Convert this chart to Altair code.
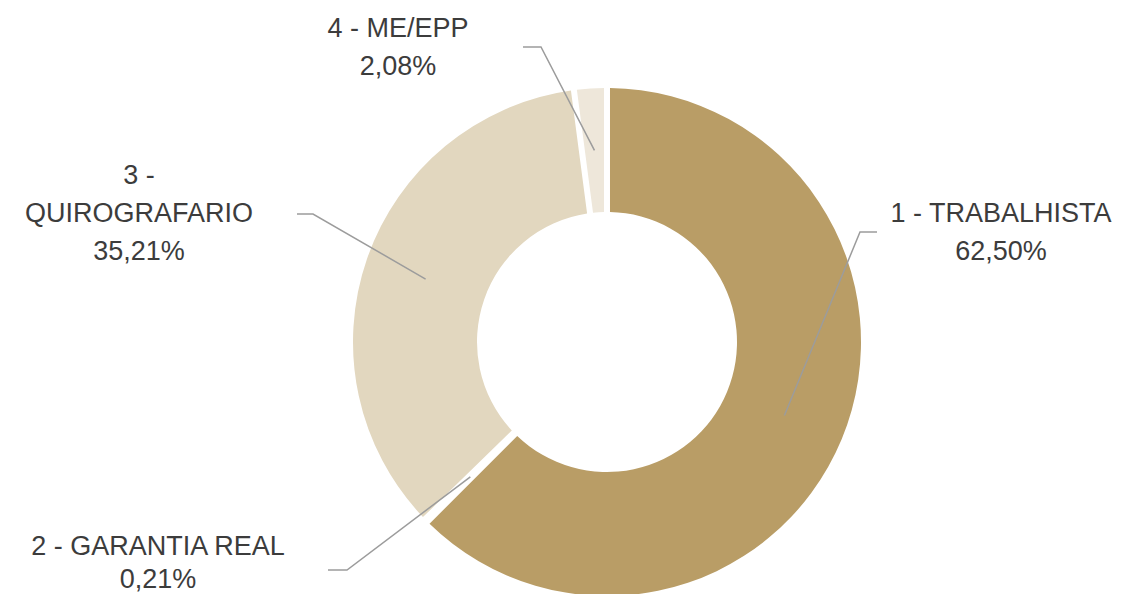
import altair as alt
import pandas as pd
import numpy as np

# ---- data ----
categories = ["1 - TRABALHISTA", "2 - GARANTIA REAL", "3 - QUIROGRAFARIO", "4 - ME/EPP"]
shares = [62.50, 0.21, 35.21, 2.08]
share_labels = ["62,50%", "0,21%", "35,21%", "2,08%"]
label_lines = [
    ["1 - TRABALHISTA", "62,50%"],
    ["2 - GARANTIA REAL", "0,21%"],
    ["3 -", "QUIROGRAFARIO", "35,21%"],
    ["4 - ME/EPP", "2,08%"],
]
colors = ["#B99D66", "#FFFFFF", "#E2D7BF", "#EEE7DA"]

# ---- layout ----
W, H = 1106, 586
CX, CY = 599, 334
R_OUT, R_IN = 254, 130
R_LEAD = 192
label_x = [993, 150, 131, 390]
label_y0 = [214, 547, 176, 29]
label_lh = [38, 33, 38, 38]
elbow = [(852, 224), (339, 562), (305, 206), (533, 39)]
lead_end = [(869, 224), (320, 562), (289, 206), (515, 39)]

pie_df = pd.DataFrame({"cat": categories, "share": shares, "idx": list(range(len(categories)))})

# leader lines: start at slice mid-angle in the middle of the ring
cum = np.cumsum(shares)
mid = (cum - np.array(shares) / 2) / 100 * 2 * np.pi
rows = []
for i, c in enumerate(categories):
    ax = CX + R_LEAD * np.sin(mid[i])
    ay = CY - R_LEAD * np.cos(mid[i])
    rows.append({"cat": c, "step": 0, "x": ax, "y": ay})
    rows.append({"cat": c, "step": 1, "x": elbow[i][0], "y": elbow[i][1]})
    rows.append({"cat": c, "step": 2, "x": lead_end[i][0], "y": lead_end[i][1]})
lead_df = pd.DataFrame(rows)

trows = []
for i, lines in enumerate(label_lines):
    for j, t in enumerate(lines):
        trows.append({"t": t, "x": label_x[i], "y": label_y0[i] + j * label_lh[i]})
text_df = pd.DataFrame(trows)

xs = alt.Scale(domain=[0, W], nice=False, zero=False)
ys = alt.Scale(domain=[0, H], nice=False, zero=False, reverse=True)

arcs = alt.Chart(pie_df).mark_arc(
    innerRadius=R_IN, outerRadius=R_OUT, padAngle=0.021
).encode(
    theta=alt.Theta("share:Q", stack=True),
    order=alt.Order("idx:Q"),
    color=alt.Color("cat:N", scale=alt.Scale(domain=categories, range=colors), legend=None),
    x=alt.value(CX),
    y=alt.value(CY),
)

leads = alt.Chart(lead_df).mark_line(color="#9C9C9C", strokeWidth=1.5).encode(
    x=alt.X("x:Q", scale=xs, axis=None),
    y=alt.Y("y:Q", scale=ys, axis=None),
    detail="cat:N",
    order="step:Q",
)

texts = alt.Chart(text_df).mark_text(
    font="Liberation Sans", fontSize=27, color="#3C3C3C", align="center", baseline="alphabetic"
).encode(
    x=alt.X("x:Q", scale=xs, axis=None),
    y=alt.Y("y:Q", scale=ys, axis=None),
    text="t:N",
)

chart = alt.layer(arcs, leads, texts).properties(
    width=W, height=H, padding=0, autosize=alt.AutoSizeParams(type="none")
).configure_view(stroke=None).resolve_scale(color="independent")

chart.save("out.html", embed_options={"renderer": "svg", "actions": False})
